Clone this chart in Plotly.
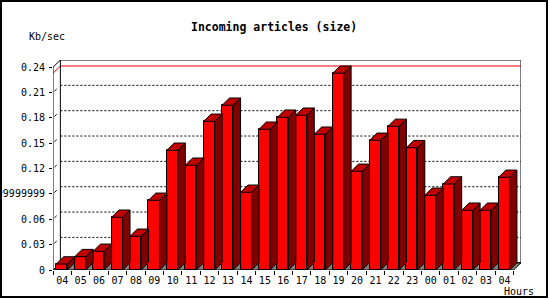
import plotly.graph_objects as go

hours = ["04", "05", "06", "07", "08", "09", "10", "11", "12", "13", "14", "15",
         "16", "17", "18", "19", "20", "21", "22", "23", "00", "01", "02", "03", "04"]
kbsec = [0.0071, 0.0158, 0.0221, 0.0624, 0.0399, 0.0825, 0.1417, 0.1240, 0.1760,
         0.1950, 0.0920, 0.1666, 0.1808, 0.1832, 0.1607, 0.2329, 0.1168, 0.1535,
         0.1700, 0.1448, 0.0884, 0.1018, 0.0707, 0.0707, 0.1097]
ytickvals = [0, 0.03, 0.06, 0.09, 0.12, 0.15, 0.18, 0.21, 0.24]
yticktext = ["0", "0.03", "0.06", "0.09999999", "0.12", "0.15", "0.18", "0.21", "0.24"]

TITLE = "Incoming articles (size)"
YLABEL = "Kb/sec"
XLABEL = "Hours"

# 3D depth (in axis units) and bar geometry
DX = 0.4
DY = 0.0086
BAR_OFF = 0.18
BAR_W = 0.6
YMAX = 0.24

n = len(hours)
x0s = [i + BAR_OFF for i in range(n)]
x1s = [x + BAR_W for x in x0s]
centers = [x + BAR_W / 2 for x in x0s]

side_x, side_y, top_x, top_y = [], [], [], []
for a, b, v in zip(x0s, x1s, kbsec):
    side_x += [b, b + DX, b + DX, b, b, None]
    side_y += [0, DY, v + DY, v, 0, None]
    top_x += [a, b, b + DX, a + DX, a, None]
    top_y += [v, v, v + DY, v + DY, v, None]

fig = go.Figure()
fig.add_trace(go.Bar(x=centers, y=kbsec, width=BAR_W,
                     marker=dict(color="#ff0000", line=dict(color="black", width=1)),
                     hoverinfo="skip", showlegend=False))
fig.add_trace(go.Scatter(x=side_x, y=side_y, mode="lines", fill="toself",
                         fillcolor="#800000", line=dict(color="black", width=1),
                         hoverinfo="skip", showlegend=False))
fig.add_trace(go.Scatter(x=top_x, y=top_y, mode="lines", fill="toself",
                         fillcolor="#c00000", line=dict(color="black", width=1),
                         hoverinfo="skip", showlegend=False))

shapes = []
# floor
shapes.append(dict(type="path", xref="x", yref="y", layer="below",
                   path=f"M 0,0 L {n},0 L {n+DX},{DY} L {DX},{DY} Z",
                   fillcolor="#808080", line=dict(color="black", width=1)))
# dotted grid on back wall
for v in ytickvals[1:-1]:
    shapes.append(dict(type="line", xref="x", yref="y", layer="below",
                       x0=DX, x1=n + DX, y0=v + DY, y1=v + DY,
                       line=dict(color="black", width=1, dash="2px,2px")))
    # small depth tick
    shapes.append(dict(type="line", xref="x", yref="y", layer="below",
                       x0=0.2 * DX, x1=0.5 * DX, y0=v + 0.2 * DY, y1=v + 0.5 * DY,
                       line=dict(color="black", width=1)))
# max line
M = max(kbsec)
shapes.append(dict(type="path", xref="x", yref="y", layer="below",
                   path=f"M 0,{M} L {DX},{M+DY} L {n+DX},{M+DY}",
                   line=dict(color="#ff0000", width=1)))
# back box
shapes.append(dict(type="rect", xref="x", yref="y", layer="below",
                   x0=DX, x1=n + DX, y0=DY, y1=YMAX + DY,
                   line=dict(color="black", width=1)))
# front left edges
shapes.append(dict(type="path", xref="x", yref="y", layer="below",
                   path=f"M 0,0 L 0,{YMAX} L {DX},{YMAX+DY}",
                   line=dict(color="black", width=1)))

L, R, T, B = 53, 29, 60, 30
W, H = 550, 300
PW, PH = W - L - R, H - T - B


def px(xp):
    return (xp - L) / PW


def py(yp):
    return (H - B - yp) / PH


# outer border
shapes.append(dict(type="rect", xref="paper", yref="paper", layer="above",
                   x0=px(1), x1=px(547), y0=py(297), y1=py(1),
                   line=dict(color="black", width=2)))

annotations = [
    dict(text=f"<b>{TITLE}</b>", xref="paper", yref="paper", x=px(274), y=py(27),
         xanchor="center", yanchor="middle", showarrow=False,
         font=dict(family="DejaVu Sans Mono", size=11.5, color="black")),
    dict(text=YLABEL, xref="paper", yref="paper", x=px(47), y=py(37),
         xanchor="center", yanchor="middle", showarrow=False,
         font=dict(family="DejaVu Sans Mono", size=10, color="black")),
    dict(text=XLABEL, xref="paper", yref="paper", x=px(519), y=py(291),
         xanchor="center", yanchor="middle", showarrow=False,
         font=dict(family="DejaVu Sans Mono", size=10, color="black")),
]

fig.update_layout(
    width=W, height=H,
    margin=dict(l=L, r=R, t=T, b=B, pad=0, autoexpand=False),
    paper_bgcolor="white", plot_bgcolor="white",
    font=dict(family="DejaVu Sans Mono", size=10, color="black"),
    showlegend=False,
    shapes=shapes, annotations=annotations,
    bargap=0,
    xaxis=dict(range=[0, n + DX], showgrid=False, zeroline=False, showline=False,
               tickmode="array", tickvals=[i + 0.5 for i in range(n)], ticktext=hours,
               ticks="", tickangle=0, automargin=False, ticklabelstandoff=3,
               minor=dict(ticks="outside", ticklen=4, tickcolor="black", tickwidth=1,
                          tick0=0, dtick=1, showgrid=False),
               fixedrange=True),
    yaxis=dict(range=[0, YMAX + DY], showgrid=False, zeroline=False, showline=False,
               tickmode="array", tickvals=ytickvals, ticktext=yticktext,
               ticks="outside", ticklen=3, tickcolor="black", tickwidth=1,
               automargin=False, ticklabelstandoff=2, fixedrange=True),
)

fig.write_html("out.html")
